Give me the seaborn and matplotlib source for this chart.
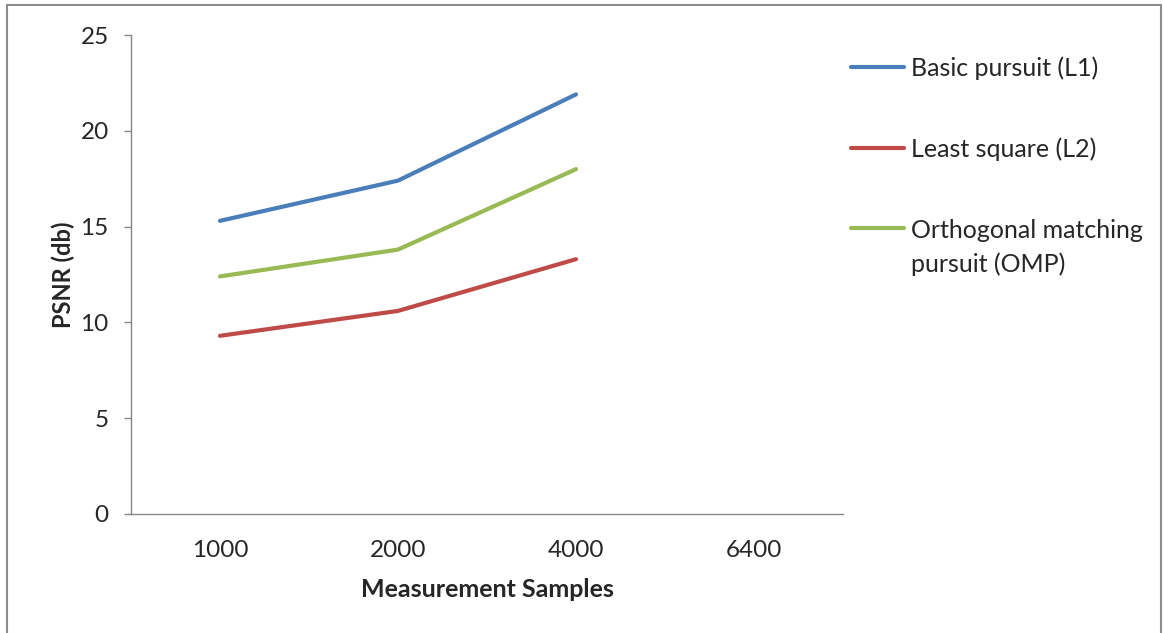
import pandas as pd
import numpy as np
import matplotlib
matplotlib.use("Agg")
import matplotlib.pyplot as plt
import seaborn as sns
from matplotlib.patches import Rectangle
from matplotlib.legend_handler import HandlerLine2D

samples = ["1000", "2000", "4000", "6400"]
basic_pursuit = [15.3, 17.4, 21.9]
least_square = [9.3, 10.6, 13.3]
omp = [12.4, 13.8, 18.0]

series_names = ["Basic pursuit (L1)", "Least square (L2)",
                "Orthogonal matching\npursuit (OMP)"]
colors = ["#4A7EBB", "#BE4B48", "#98B954"]


class FirstLineHandler(HandlerLine2D):
    # put the legend line next to the first line of a two-line label
    def __init__(self, shift, **kw):
        super().__init__(**kw)
        self.shift = shift

    def create_artists(self, legend, orig_handle, xdescent, ydescent,
                       width, height, fontsize, trans):
        artists = super().create_artists(legend, orig_handle, xdescent, ydescent,
                                         width, height, fontsize, trans)
        for a in artists:
            a.set_ydata(np.asarray(a.get_ydata()) + self.shift * fontsize)
        return artists


def build_frame():
    rows = []
    for name, vals in zip(series_names, [basic_pursuit, least_square, omp]):
        for i, v in enumerate(vals):
            rows.append({"pos": i, "sample": samples[i], "PSNR": v, "method": name})
    return pd.DataFrame(rows)


def plot_chart(df):
    sns.set_style("white")
    plt.rcParams["font.family"] = ["Lato", "DejaVu Sans"]
    fig = plt.figure(figsize=(11.63, 6.33), dpi=100)
    ax = fig.add_axes([0.1126, 0.188, 0.6123, 0.7567])

    sns.lineplot(data=df, x="pos", y="PSNR", hue="method", hue_order=series_names,
                 palette=colors, linewidth=3, ax=ax, legend=False,
                 solid_capstyle="round")

    ax.set_xlim(-0.5, len(samples) - 0.5)
    ax.set_ylim(0, 25)
    ax.set_yticks(range(0, 26, 5))
    ax.set_xticks(range(len(samples)))
    ax.set_xticklabels(samples)
    ax.set_xticks(np.arange(-0.5, len(samples), 1), minor=True)
    ax.tick_params(axis="x", which="major", length=0, pad=19, labelsize=17.5)
    ax.tick_params(axis="x", which="minor", length=8, width=1, color="#868686",
                   direction="out")
    ax.tick_params(axis="y", length=5, width=1, color="#868686", direction="out",
                   pad=11, labelsize=17.5, left=True)

    for side in ["top", "right"]:
        ax.spines[side].set_visible(False)
    for side in ["left", "bottom"]:
        ax.spines[side].set_color("#868686")
        ax.spines[side].set_linewidth(1)

    ax.set_xlabel("Measurement Samples", fontsize=18, fontweight="bold", labelpad=12)
    ax.set_ylabel("PSNR (db)", fontsize=17, fontweight="bold", labelpad=4)

    handles = [plt.Line2D([], [], color=c, linewidth=3, solid_capstyle="round")
               for c in colors]
    leg = fig.legend(handles, series_names, loc="upper left",
                     bbox_to_anchor=(0.7128, 0.9463), frameon=False, fontsize=18,
                     handlelength=2.1, handletextpad=0.28, labelspacing=2.3,
                     handler_map={handles[2]: FirstLineHandler(0.8)})
    leg.get_texts()[2].set_linespacing(1.55)

    fig.patches.append(Rectangle((0.006, -0.02), 0.992, 1.012,
                                 transform=fig.transFigure, fill=False,
                                 edgecolor="#8c8c8c", linewidth=1.5))
    fig.savefig("out.png", dpi=100)


def main():
    df = build_frame()
    plot_chart(df)


if __name__ == "__main__":
    main()
